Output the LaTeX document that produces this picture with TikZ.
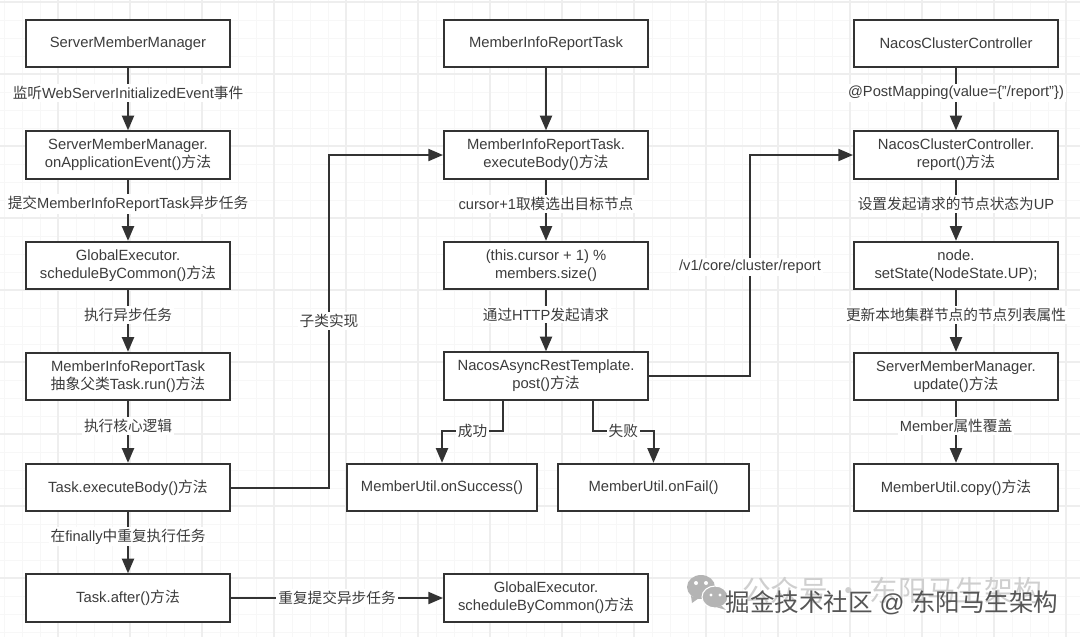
\documentclass[tikz,border=0pt]{standalone}
\usepackage{fontspec}
\setmainfont{Liberation Sans}
\newfontfamily\cjk{Noto Sans CJK SC}
\usetikzlibrary{arrows.meta}
\definecolor{ink}{HTML}{333333}
\definecolor{txt}{HTML}{3C3C3C}
\definecolor{gridmin}{HTML}{F7F7F7}
\definecolor{gridmaj}{HTML}{EEEEEE}
\definecolor{wmgrey}{HTML}{B4B4B4}
\definecolor{wmpale}{HTML}{CFCFCF}
\definecolor{wmdark}{HTML}{555555}
\newcommand{\zh}[1]{{\cjk #1}}
\tikzset{
box/.style={draw=ink,line width=1.5pt,fill=white,minimum width=153pt,minimum height=35.5pt,align=center,inner sep=0pt,text=txt,font=\fontsize{11.1pt}{13.7pt}\selectfont},
wide/.style={box,minimum width=143pt},
flow/.style={draw=ink,line width=1.5pt,-{Triangle[length=11pt,width=9pt]}},
lbl/.style={fill=white,inner sep=1.5pt,text=txt,font=\fontsize{11pt}{14pt}\selectfont},
}
\begin{document}
\begin{tikzpicture}[x=0.75pt,y=-0.75pt]
\def\bx#1#2#3#4{
\node [box] (#1) at (#2,#3) {#4};
}
\useasboundingbox (0,0) rectangle (1080,637);
\fill[white] (0,0) rectangle (1080,637);
\foreach \i in {0,...,60} {
\draw[gridmin,line width=0.6pt] (4+\i*18,0) -- (4+\i*18,637);
}
\foreach \i in {0,...,35} {
\draw[gridmin,line width=0.6pt] (0,2+\i*18) -- (1080,2+\i*18);
}
\foreach \i in {0,...,14} {
\draw[gridmaj,line width=0.8pt] (58+\i*72,0) -- (58+\i*72,637);
}
\foreach \i in {0,...,8} {
\draw[gridmaj,line width=0.8pt] (0,2+\i*72) -- (1080,2+\i*72);
}
\bx{smm}{128}{43.5}{ServerMemberManager}
\bx{onapp}{128}{155}{ServerMemberManager.\\onApplicationEvent()\zh{方法}}
\bx{sched}{128}{265.5}{GlobalExecutor.\\scheduleByCommon()\zh{方法}}
\bx{taskrun}{128}{376.5}{MemberInfoReportTask\\\zh{抽象父类}Task.run()\zh{方法}}
\bx{taskbody}{128}{487.5}{Task.executeBody()\zh{方法}}
\bx{taskafter}{128}{598}{Task.after()\zh{方法}}
\bx{mirt}{546}{43.5}{MemberInfoReportTask}
\bx{mirbody}{546}{155}{MemberInfoReportTask.\\executeBody()\zh{方法}}
\bx{mods}{546}{265.5}{(this.cursor + 1) \%\\members.size()}
\bx{post}{546}{376}{NacosAsyncRestTemplate.\\post()\zh{方法}}
\bx{resched}{546}{598}{GlobalExecutor.\\scheduleByCommon()\zh{方法}}
\node [wide] (okbox) at (442,487.5) {MemberUtil.onSuccess()};
\node [wide] (failbox) at (653.5,487.5) {MemberUtil.onFail()};
\bx{ncc}{956}{43.5}{NacosClusterController}
\bx{nccrep}{956}{155}{NacosClusterController.\\report()\zh{方法}}
\bx{setst}{956}{265.5}{node.\\setState(NodeState.UP);}
\bx{smmup}{956}{376.5}{ServerMemberManager.\\update()\zh{方法}}
\bx{copybox}{956}{487.5}{MemberUtil.copy()\zh{方法}}
\draw[flow] (smm) -- node[lbl,pos=0.4] {\zh{监听}WebServerInitializedEvent\zh{事件}} (onapp);
\draw[flow] (onapp) -- node[lbl,pos=0.4] {\zh{提交}MemberInfoReportTask\zh{异步任务}} (sched);
\draw[flow] (sched) -- node[lbl,pos=0.4] {\zh{执行异步任务}} (taskrun);
\draw[flow] (taskrun) -- node[lbl,pos=0.4] {\zh{执行核心逻辑}} (taskbody);
\draw[flow] (taskbody) -- node[lbl,pos=0.4] {\zh{在}finally\zh{中重复执行任务}} (taskafter);
\draw[flow] (taskafter) -- node[lbl] {\zh{重复提交异步任务}} (resched);
\coordinate (subbend) at (329,321);
\draw[flow] (taskbody.east) -| (subbend) node[lbl] {\zh{子类实现}} |- (mirbody.west);
\draw[flow] (mirt) -- (mirbody);
\draw[flow] (mirbody) -- node[lbl,pos=0.4] {cursor+1\zh{取模选出目标节点}} (mods);
\draw[flow] (mods) -- node[lbl,pos=0.4] {\zh{通过}HTTP\zh{发起请求}} (post);
\coordinate (okbend) at (503,431);
\coordinate (failbend) at (593,431);
\draw[flow] (post.south -| okbend) -- (okbend) -- node[lbl] {\zh{成功}} (okbend -| okbox.north) -- (okbox.north);
\draw[flow] (post.south -| failbend) -- (failbend) -- node[lbl] {\zh{失败}} (failbend -| failbox.north) -- (failbox.north);
\coordinate (urlbend) at (750,267);
\draw[flow] (post.east) -| (urlbend) node[lbl] {/v1/core/cluster/report} |- (nccrep.west);
\draw[flow] (ncc) -- node[lbl,pos=0.4] {@PostMapping(value=\{"/report"\})} (nccrep);
\draw[flow] (nccrep) -- node[lbl,pos=0.4] {\zh{设置发起请求的节点状态为}UP} (setst);
\draw[flow] (setst) -- node[lbl,pos=0.4] {\zh{更新本地集群节点的节点列表属性}} (smmup);
\draw[flow] (smmup) -- node[lbl,pos=0.4] {Member\zh{属性覆盖}} (copybox);
\fill[wmgrey] (701,587) ellipse (14 and 12);
\fill[wmgrey] (691,596) -- (692,603) -- (699,598) -- cycle;
\draw[white,fill=wmgrey,line width=0.8pt] (715,597) ellipse (13 and 11);
\fill[wmgrey] (722,606) -- (726,610) -- (716,607) -- cycle;
\fill[white] (696,583) circle (2) (706,583) circle (2) (711,595) circle (1.6) (720,595) circle (1.6);
\node [text=wmpale,font=\fontsize{21.5pt}{24pt}\selectfont] (wxmark) at (892,591) {\zh{公众号 · 东阳马生架构}};
\node [text=wmdark,font=\fontsize{18.4pt}{20pt}\selectfont] (juejin) at (892,603) {\zh{掘金技术社区} @ \zh{东阳马生架构}};
\end{tikzpicture}
\end{document}
